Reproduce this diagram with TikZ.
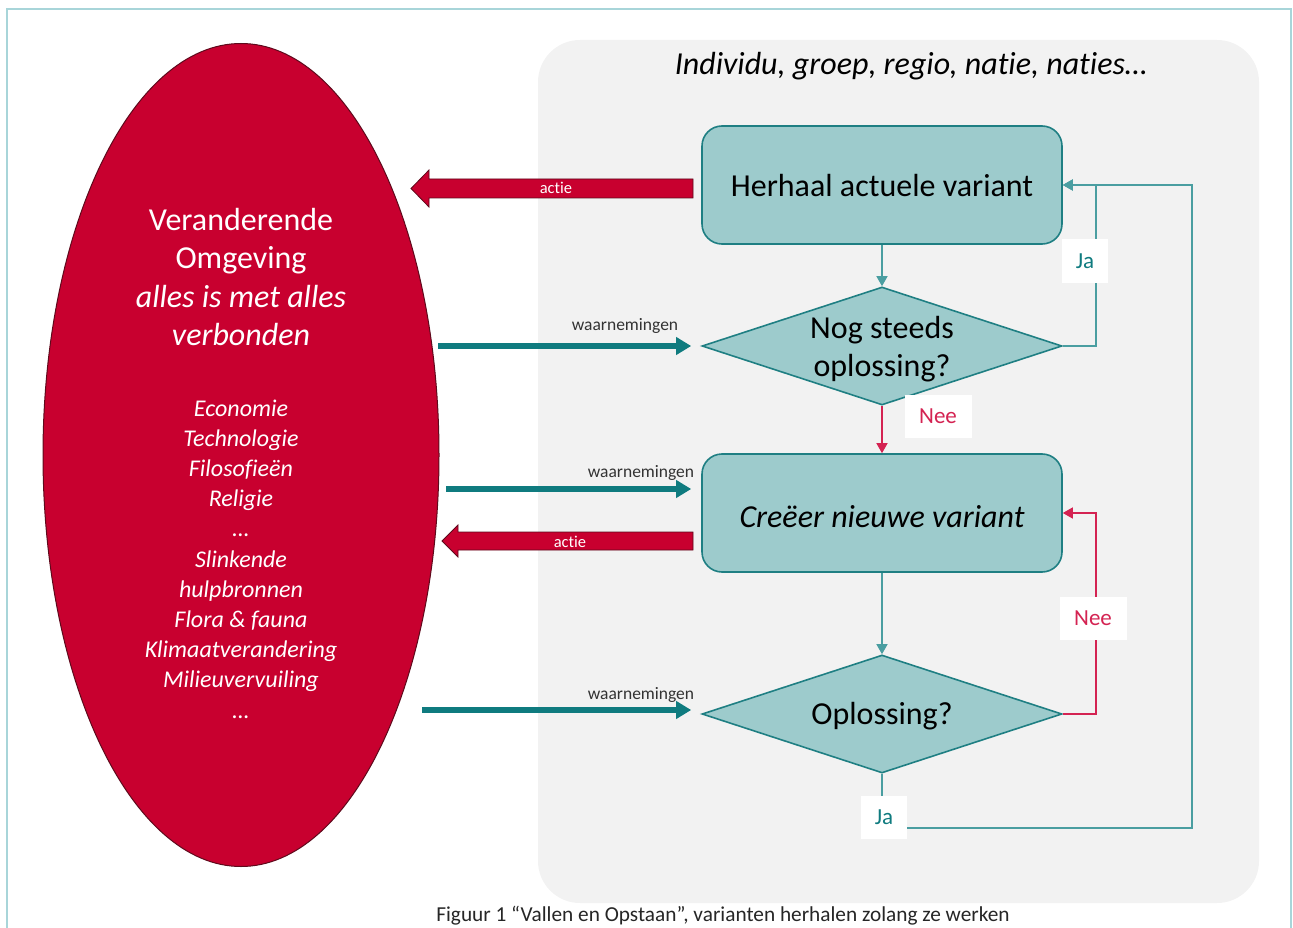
\documentclass[tikz,border=0pt]{standalone}
\usepackage{fontspec}
\setmainfont{Carlito}[Ligatures=NoCommon]
\usetikzlibrary{shapes.geometric,arrows.meta,calc}
\definecolor{crimson}{HTML}{C8002F}
\definecolor{crimsonline}{HTML}{5E0A1C}
\definecolor{tealfill}{HTML}{9DCBCC}
\definecolor{tealline}{HTML}{1F7F83}
\definecolor{tealarrow}{HTML}{0F7B7F}
\definecolor{tealthin}{HTML}{4A9EA1}
\definecolor{redthin}{HTML}{D42352}
\definecolor{panel}{HTML}{F2F2F2}
\definecolor{frameline}{HTML}{A8D5D9}
\definecolor{labelgrey}{HTML}{333333}
\begin{document}
\begin{tikzpicture}[x=1pt,y=-1pt,
  stepbox/.style={draw=tealline, line width=1.6pt, fill=tealfill, rounded corners=20pt,
    minimum width=360pt, minimum height=118pt, inner sep=0pt},
  decision/.style={diamond, draw=tealline, line width=1.6pt, fill=tealfill,
    minimum width=360pt, minimum height=118pt, aspect=3.05, inner sep=0pt},
  flowtext/.style={align=center, inner sep=0pt, text=black, font=\fontsize{32}{38}\selectfont},
  envtext/.style={align=center, text=white, inner sep=0pt},
  tealconn/.style={draw=tealthin, line width=1.4pt, -{Triangle[length=10pt,width=11pt]}},
  redconn/.style={draw=redthin, line width=1.4pt, -{Triangle[length=10pt,width=11pt]}},
  observe/.style={draw=tealarrow, line width=5.5pt, -{Triangle[length=15pt,width=17pt]}},
  actionarrow/.style={fill=crimson, draw=crimsonline, line width=0.8pt, line join=miter},
  obslabel/.style={text=labelgrey, font=\fontsize{17.5}{20}\selectfont, inner sep=0pt},
  actlabel/.style={text=white, font=\fontsize{16.5}{18}\selectfont, inner sep=0pt},
  yeslabel/.style={fill=white, text=tealarrow, font=\fontsize{23}{23}\selectfont,
    minimum width=46pt, minimum height=43pt, inner sep=0pt},
  nolabel/.style={fill=white, text=redthin, font=\fontsize{23}{23}\selectfont,
    minimum width=67pt, minimum height=43pt, inner sep=0pt}
]
\useasboundingbox (0,0) rectangle (1293,928);

% outer frame and grey panel
\draw[frameline, line width=1.5pt] (7,9) rectangle (1291,945);
\fill[panel, rounded corners=42pt] (538,40) rectangle (1259,903);
\node[font=\itshape\fontsize{32}{36}\selectfont, inner sep=0pt] (title) at (911,66)
  {Individu, groep, regio, natie, naties…};

% environment ellipse
\node[ellipse, draw=crimsonline, line width=1pt, fill=crimson,
  minimum width=396pt, minimum height=823pt, inner sep=0pt] (env) at (241,455) {};
\node[envtext, font=\fontsize{32}{38.5}\selectfont] (envhead) at (241,277)
  {Veranderende\\Omgeving\\\textit{alles is met alles}\\\textit{verbonden}};
\node[envtext, font=\itshape\fontsize{24}{30.2}\selectfont] (envlist) at (241,559)
  {Economie\\Technologie\\Filosofieën\\Religie\\…\\Slinkende\\hulpbronnen\\Flora \& fauna\\Klimaatverandering\\Milieuvervuiling\\…};

% flow chart
\node[stepbox] (repeat) at (882,185) {};
\node[decision] (still) at (882,346) {};
\node[stepbox] (create) at (882,513) {};
\node[decision] (solved) at (882,714) {};
\node[flowtext] (repeattext) at ($(repeat)+(0,1)$) {Herhaal actuele variant};
\node[flowtext] (stilltext) at ($(still)+(0,3)$) {Nog steeds\\oplossing?};
\node[flowtext, font=\itshape\fontsize{32}{38}\selectfont] (createtext) at ($(create)+(0,4)$) {Creëer nieuwe variant};
\node[flowtext] (solvedtext) at ($(solved)+(0,2)$) {Oplossing?};

\draw[tealconn] (repeat.south) -- (still.north);
\draw[redconn] (still.south) -- (create.north);
\draw[tealconn] (create.south) -- (solved.north);
\draw[tealconn] (still.east) -| ($(repeat.east)+(33,0)$) -- (repeat.east);
\draw[redconn] (solved.east) -| ($(create.east)+(33,0)$) -- (create.east);
\coordinate (loopcorner) at (1192,828);
\draw[tealconn] (solved.south) |- (loopcorner) |- (repeat.east);

\node[yeslabel] (ja1) at (1085,261) {Ja};
\node[nolabel] (nee1) at (938,416) {Nee};
\node[nolabel] (nee2) at (1093,618) {Nee};
\node[yeslabel] (ja2) at (884,817) {Ja};

% observations flowing in
\coordinate (obs1) at (438,346);
\coordinate (obs2) at (446,489);
\coordinate (obs3) at (422,710);
\draw[observe] (obs1) -- ($(still.west)+(-10,0)$);
\draw[observe] (obs2) -- ($(create.west)+(-10,-24)$);
\draw[observe] (obs3) -- ($(solved.west)+(-10,-4)$);
\node[obslabel] (w1) at (625,326) {waarnemingen};
\node[obslabel] (w2) at (641,473) {waarnemingen};
\node[obslabel] (w3) at (641,695) {waarnemingen};

% actions flowing out
\filldraw[actionarrow] (693,179) -- (429,179) -- (429,170) -- (411,188.5) -- (429,207) -- (429,198) -- (693,198) -- cycle;
\filldraw[actionarrow] (693,532) -- (458,532) -- (458,525) -- (442,541) -- (458,557) -- (458,550) -- (693,550) -- cycle;
\node[actlabel] (act1) at (556,188) {actie};
\node[actlabel] (act2) at (570,542) {actie};

% caption
\node[text=black!85, font=\fontsize{21.3}{24}\selectfont, inner sep=0pt] (caption) at (723,916)
  {Figuur 1 “Vallen en Opstaan”, varianten herhalen zolang ze werken};
\end{tikzpicture}
\end{document}
